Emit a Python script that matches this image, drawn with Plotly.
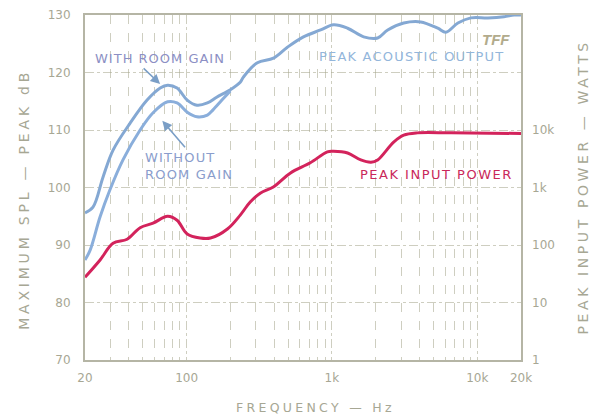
import plotly.graph_objects as go

# ---- data ----
freq_with = [20, 22.7, 26.6, 31.2, 40.9, 53.5, 65.8, 74, 86, 101, 118, 139, 161, 200, 234,
             246, 307, 396, 494, 637, 836, 1026, 1282, 1653, 2064, 2421, 3120, 4084, 5352,
             6080, 7360, 9040, 11840, 15270, 17900, 20000]
spl_with = [95.6, 96.6, 101.8, 106.5, 111.2, 115.2, 117.3, 117.8, 117.3, 115.2, 114.3, 114.7,
            115.7, 117.0, 118.3, 119.2, 121.7, 122.5, 124.4, 126.2, 127.4, 128.3, 127.7, 126.2,
            126.0, 127.4, 128.6, 128.8, 127.7, 127.0, 128.6, 129.5, 129.5, 129.7, 130.0, 130.0]

freq_without = [20, 21.7, 25.4, 29.7, 36.5, 47.9, 58.8, 74, 86, 101, 118, 139, 152, 175, 200]
spl_without = [87.4, 89.1, 94.9, 99.6, 104.8, 110.0, 113.0, 114.9, 114.7, 113.1, 112.3, 112.6,
               113.5, 115.2, 116.8]

freq_power = [20, 25.4, 31.2, 39.0, 47.9, 58.8, 74, 86, 101, 124, 146, 191, 234, 274, 321,
              395, 516, 710, 930, 1026, 1282, 1580, 1857, 2064, 2660, 3120, 3880, 6600, 20000]
power_watts = [27.5, 55, 107, 126, 200, 240, 316, 270, 155, 132, 132, 190, 331, 560, 794,
               1023, 1778, 2690, 4170, 4266, 3981, 3020, 2754, 3020, 6166, 8128, 8913, 8913, 8700]

x_tickvals = [20, 100, 1000, 10000, 20000]
x_ticktext = ["20", "100", "1k", "10k", "20k"]
x_minor = [30, 40, 50, 60, 70, 80, 90, 200, 300, 400, 500, 600, 700, 800, 900,
           2000, 3000, 4000, 5000, 6000, 7000, 8000, 9000]
y_tickvals = [70, 80, 90, 100, 110, 120, 130]
w_tickvals = [1, 10, 100, 1000, 10000]
w_ticktext = ["1", "10", "100", "1k", "10k"]

GRAY = "#a7a794"
GRID = "rgba(165,165,140,0.55)"
FONT = "DejaVu Sans"


def spaced(t, px):
    return '<span style="letter-spacing:%spx">%s</span>' % (px, t)


fig = go.Figure()
fig.add_trace(go.Scatter(x=freq_with, y=spl_with, mode="lines",
                         line=dict(color="#84a8d3", width=3, shape="spline"), showlegend=False))
fig.add_trace(go.Scatter(x=freq_without, y=spl_without, mode="lines",
                         line=dict(color="#8aaedb", width=3, shape="spline"), showlegend=False))
fig.add_trace(go.Scatter(x=freq_power, y=power_watts, mode="lines", yaxis="y2",
                         line=dict(color="#d3235c", width=3, shape="spline"), showlegend=False))

fig.update_layout(
    width=590, height=417, margin=dict(l=85, r=69, t=15, b=57),
    paper_bgcolor="white", plot_bgcolor="white",
    font=dict(family=FONT, color=GRAY, size=12),
    xaxis=dict(type="log", range=[1.30103, 4.30103], tickvals=x_tickvals, ticktext=x_ticktext,
               showgrid=True, gridcolor=GRID, griddash="dashdot", gridwidth=1,
               minor=dict(tickvals=x_minor, showgrid=True, gridcolor=GRID, griddash="dash", gridwidth=1),
               showline=True, linecolor="#b5b5a5", linewidth=2, mirror=True, ticks="", zeroline=False,
               ticklabelstandoff=6, automargin=False),
    yaxis=dict(range=[70, 130], tickvals=y_tickvals, showgrid=True, gridcolor=GRID, griddash="dashdot",
               showline=True, linecolor="#b5b5a5", linewidth=2, mirror=True, ticks="", zeroline=False,
               ticklabelstandoff=10, automargin=False),
    yaxis2=dict(type="log", range=[0, 6], overlaying="y", side="right", tickvals=w_tickvals, ticktext=w_ticktext,
                showgrid=False, ticks="", zeroline=False, ticklabelstandoff=10, automargin=False),
)

# axis titles
fig.add_annotation(x=0.528, y=-0.139, xref="paper", yref="paper", text=spaced("FREQUENCY — Hz", 3.3),
                   showarrow=False, xanchor="center", yanchor="middle", font=dict(size=12.5, color=GRAY))
fig.add_annotation(x=-0.140, y=0.467, xref="paper", yref="paper", text=spaced("MAXIMUM SPL — PEAK dB", 3.8),
                   showarrow=False, textangle=-90, xanchor="center", yanchor="middle",
                   font=dict(size=14, color=GRAY))
fig.add_annotation(x=1.143, y=0.501, xref="paper", yref="paper", text=spaced("PEAK INPUT POWER — WATTS", 3.6),
                   showarrow=False, textangle=-90, xanchor="center", yanchor="middle",
                   font=dict(size=14, color=GRAY))

ann_font = 13
fig.add_annotation(x=0.018, y=0.875, xref="paper", yref="paper", text=spaced("WITH ROOM GAIN", 1),
                   showarrow=False, xanchor="left", yanchor="middle", font=dict(size=ann_font, color="#8c8fc4"))
fig.add_annotation(x=0.133, y=0.562, xref="paper", yref="paper",
                   text=spaced("WITHOUT", 1.2) + "<br>" + spaced("ROOM GAIN", 1.2), showarrow=False,
                   xanchor="left", yanchor="middle", align="left", font=dict(size=ann_font, color="#8a9dcc"))
fig.add_annotation(x=0.532, y=0.881, xref="paper", yref="paper", text=spaced("PEAK ACOUSTIC OUTPUT", 1.2),
                   showarrow=False, xanchor="left", yanchor="middle", font=dict(size=ann_font, color="#93b6db"))
fig.add_annotation(x=0.979, y=0.928, xref="paper", yref="paper", text="<i><b>TFF</b></i>", showarrow=False,
                   xanchor="right", yanchor="middle", font=dict(size=15, color="#b2ab8c", family="Liberation Sans"))
fig.add_annotation(x=0.626, y=0.539, xref="paper", yref="paper", text=spaced("PEAK INPUT POWER", 1.5),
                   showarrow=False, xanchor="left", yanchor="middle", font=dict(size=ann_font, color="#c9285a"))
# arrows
fig.add_annotation(x=1.818, y=118.0, xref="x", yref="y", ax=-18, ay=-17, axref="pixel", ayref="pixel",
                   text="", showarrow=True, arrowhead=2, arrowsize=1.2, arrowwidth=1.6, arrowcolor="#7a9ec6")
fig.add_annotation(x=1.833, y=111.6, xref="x", yref="y", ax=24, ay=28, axref="pixel", ayref="pixel",
                   text="", showarrow=True, arrowhead=2, arrowsize=1.2, arrowwidth=1.6, arrowcolor="#7a9ec6")

fig.write_html("out.html")
